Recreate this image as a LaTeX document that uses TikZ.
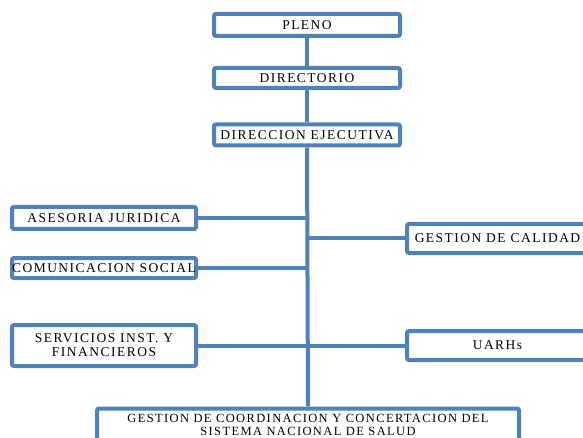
\documentclass[tikz,border=0pt]{standalone}
\usepackage{fontspec}
\setmainfont{Liberation Serif}[LetterSpace=11]
\definecolor{boxblue}{RGB}{79,129,189}
\pgfdeclarelayer{bg}
\pgfsetlayers{bg,main}
\begin{document}
\begin{tikzpicture}[x=1pt,y=-1pt,
  orgbox/.style={draw=boxblue,line width=4pt,rounded corners=2pt,fill=white,
    inner sep=0pt,align=center,font=\fontsize{13.5}{14}\selectfont},
  link/.style={draw=boxblue,line width=4pt}]
\useasboundingbox (0,0) rectangle (583,438);
\clip (0,0) rectangle (583,438);
\node[orgbox,minimum width=186pt,minimum height=22pt] (pleno) at (307,25) {PLENO};
\node[orgbox,minimum width=186pt,minimum height=20pt] (dirt) at (307,78) {DIRECTORIO};
\node[orgbox,minimum width=186pt,minimum height=21pt] (dej) at (307,135) {DIRECCION EJECUTIVA};
\node[orgbox,minimum width=184pt,minimum height=22pt] (ases) at (104,218) {ASESORIA JURIDICA};
\node[orgbox,minimum width=184pt,minimum height=20pt] (com) at (104,268) {COMUNICACION SOCIAL};
\node[orgbox,minimum width=184pt,minimum height=41pt] (serv) at (104,345.5) {SERVICIOS INST. Y\\FINANCIEROS};
\node[orgbox,minimum width=181pt,minimum height=29pt] (cal) at (497.5,238.5) {GESTION DE CALIDAD};
\node[orgbox,minimum width=181pt,minimum height=29pt] (uarh) at (497.5,345.5) {UARHs};
\node[orgbox,minimum width=422pt,minimum height=60pt,anchor=north] (gest) at (308,406.5) {};
\node[font=\fontsize{12.5}{13.5}\selectfont,align=center,anchor=north,inner sep=0pt] (gtxt) at (308,414) {GESTION DE COORDINACION Y CONCERTACION DEL\\SISTEMA NACIONAL DE SALUD};
\begin{pgfonlayer}{bg}
\draw[link] (pleno.south) -- (dirt.north);
\draw[link] (dirt.south) -- (dej.north);
\draw[link] (dej.south) -- (gest.north);
\draw[link] (ases.east) -- (ases.east -| dej.south);
\draw[link] (com.east) -- (com.east -| dej.south);
\draw[link] (serv.east) -- (serv.east -| dej.south);
\draw[link] (cal.west) -- (cal.west -| dej.south);
\draw[link] (uarh.west) -- (uarh.west -| dej.south);
\end{pgfonlayer}
\end{tikzpicture}
\end{document}
